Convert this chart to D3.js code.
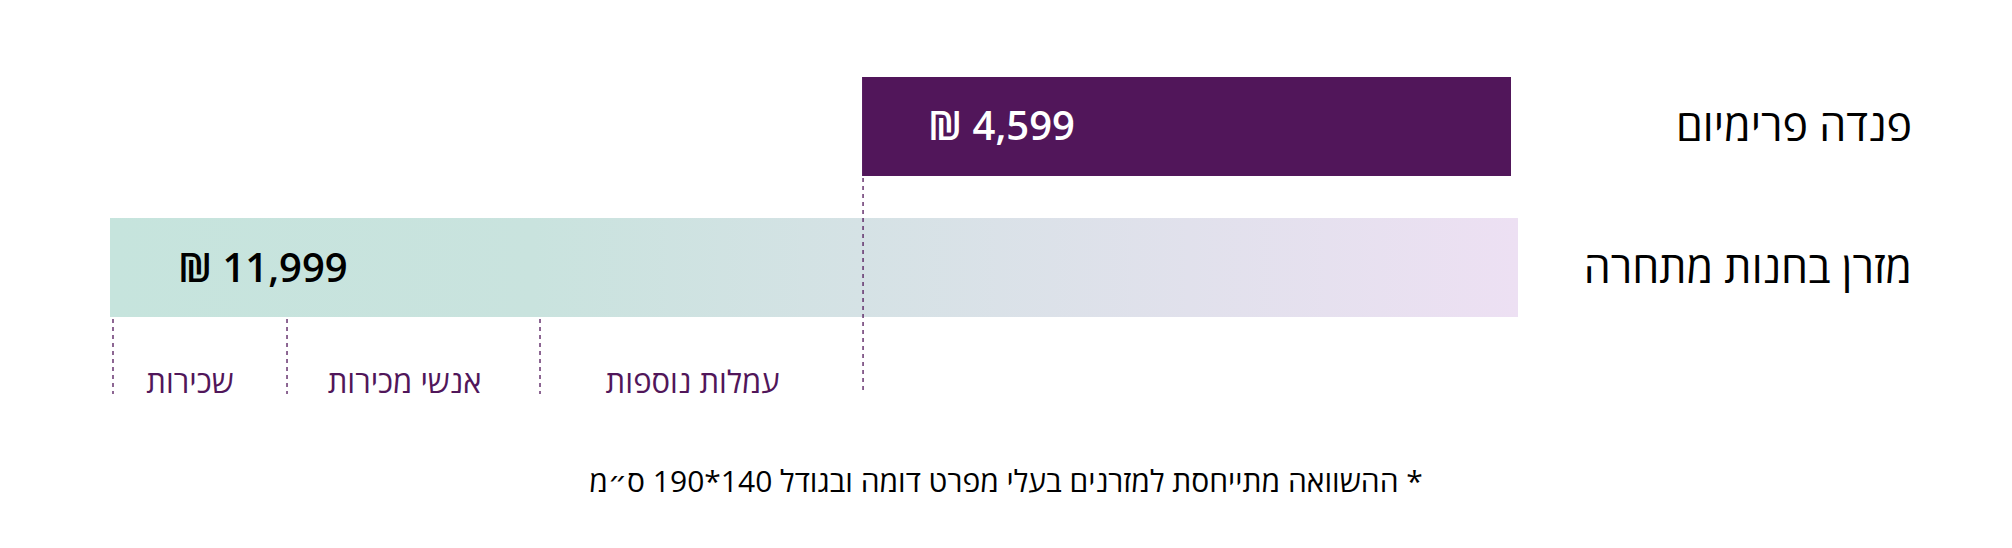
<!DOCTYPE html>
<html><head><meta charset="utf-8">
<script src="https://cdn.jsdelivr.net/npm/d3@7"></script>
<style>body{margin:0;background:#fff}svg{font-family:"Open Sans","DejaVu Sans",sans-serif}</style>
</head><body><svg id="c" width="2012" height="548"></svg>
<script>
// rows (right-to-left layout)
var rowNames = ['פנדה פרימיום', 'מזרן בחנות מתחרה'];
var rowPrices = [4599, 11999];
// breakdown of the store price, from the right edge leftwards
var segNames = ['', 'עמלות נוספות', 'אנשי מכירות', 'שכירות'];
var segValues = [5590, 2753, 2156, 1500];
var footnote = '* ההשוואה מתייחסת למזרנים בעלי מפרט דומה ובגודל 140*190 ס״מ';

var svg = d3.select('#c');
var x = d3.scaleLinear().domain([0, d3.sum(segValues)]).range([1518, 110]);
var y = d3.scaleBand().domain(rowNames).range([77, 317]).paddingInner(0.298);

var grad = svg.append('defs').append('linearGradient').attr('id', 'g');
grad.append('stop').attr('offset', '0%').attr('stop-color', '#c6e4dd');
grad.append('stop').attr('offset', '30%').attr('stop-color', '#c9e3de');
grad.append('stop').attr('offset', '100%').attr('stop-color', '#ede0f3');

//cumulative boundaries
var cum = [0];
segValues.forEach(function (v, i) { cum.push(cum[i] + v); });

// premium bar covers the base segment
svg.append('rect').attr('x', x(segValues[0])).attr('y', y(rowNames[0]))
  .attr('width', x(0) - x(segValues[0]) - 7).attr('height', y.bandwidth()).attr('fill', '#51165a');
svg.append('rect').attr('x', x(rowPrices[1])).attr('y', y(rowNames[1]))
  .attr('width', x(0) - x(rowPrices[1])).attr('height', y.bandwidth()).attr('fill', 'url(#g)');

// dashed dividers
var divs = cum.slice(1);
svg.selectAll('line.d').data(divs).enter().append('line')
  .attr('x1', function (d) { return x(d) + (d === cum[4] ? 3 : 1); })
  .attr('x2', function (d) { return x(d) + (d === cum[4] ? 3 : 1); })
  .attr('y1', function (d, i) { return (i === 0 ? y(rowNames[0]) : y(rowNames[1])) + y.bandwidth() + 2; })
  .attr('y2', 394)
  .attr('stroke', '#51165a').attr('stroke-width', 1.3).attr('stroke-dasharray', '4,4');

// segment labels, centred in each segment
svg.selectAll('text.s').data(segNames.slice(1)).enter().append('text')
  .attr('x', function (d, i) { return (x(cum[i + 1]) + x(cum[i + 2])) / 2 - 8; })
  .attr('y', 393).attr('text-anchor', 'middle').attr('direction', 'rtl')
  .attr('font-size', 31).attr('fill', '#51165a').text(function (d) { return d; });

// row labels
svg.selectAll('text.r').data(rowNames).enter().append('text')
  .attr('x', 1912).attr('y', function (d) { return y(d) + y.bandwidth() / 2 + 15; })
  .attr('text-anchor', 'start').attr('direction', 'rtl').attr('font-size', 43).attr('fill', '#000')
  .text(function (d) { return d; });

// price labels
svg.selectAll('text.p').data(rowPrices).enter().append('text')
  .attr('x', function (d, i) { return i === 0 ? x(segValues[0]) + 66 : x(rowPrices[1]) + 68; })
  .attr('y', function (d, i) { return y(rowNames[i]) + y.bandwidth() / 2 + 14; })
  .attr('font-size', 40).attr('font-weight', 600)
  .attr('fill', function (d, i) { return i === 0 ? '#fff' : '#000'; })
  .text(function (d) { return '₪ ' + d3.format(',')(d); });

svg.append('text').attr('x', 1006).attr('y', 492).attr('text-anchor', 'middle')
  .attr('direction', 'rtl').attr('font-size', 30).attr('fill', '#000').text(footnote);
</script></body></html>
